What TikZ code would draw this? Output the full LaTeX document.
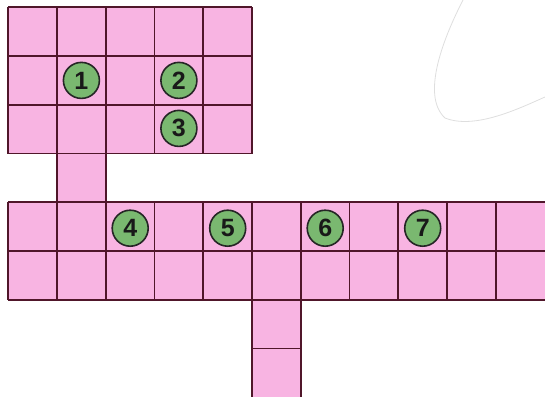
\documentclass[tikz,border=0pt]{standalone}
\usepackage{fontspec}
\setmainfont{Liberation Sans}
\definecolor{cellpink}{RGB}{248,180,226}
\definecolor{gridline}{RGB}{80,22,42}
\definecolor{dotgreen}{RGB}{122,184,112}
\definecolor{faint}{RGB}{222,222,222}
\begin{document}
\begin{tikzpicture}[x=1pt,y=-1pt,
  cellfill/.style={fill=cellpink,draw=none},
  gridl/.style={draw=gridline,line width=1.7pt},
  numdot/.style={circle,fill=dotgreen,draw=black!85,line width=1.6pt,minimum size=36pt,inner sep=0pt,font=\bfseries\fontsize{25}{25}\selectfont,text=black!90}]
\useasboundingbox (0,0) rectangle (545,396);
\clip (0,0) rectangle (545,396);
\def\cs{48.75}
% top block 5x3
\path[cellfill] (8.3,7.3) rectangle (252.05,153.55);
% connector column
\path[cellfill] (57.05,153.55) rectangle (105.8,202.3);
% bottom block 11x2
\path[cellfill] (8.3,202.3) rectangle (548,299.8);
% lower column
\path[cellfill] (252.05,299.8) rectangle (300.8,400);
% grid lines top block
\foreach \i in {0,...,5} \draw[gridl] (8.3+\i*\cs,7.3) -- (8.3+\i*\cs,153.55);
\foreach \j in {0,...,3} \draw[gridl] (8.3,7.3+\j*\cs) -- (252.05,7.3+\j*\cs);
% connector column
\draw[gridl] (57.05,153.55) -- (57.05,202.3);
\draw[gridl] (105.8,153.55) -- (105.8,202.3);
% bottom block
\foreach \i in {0,...,10} \draw[gridl] (8.3+\i*\cs,202.3) -- (8.3+\i*\cs,299.8);
\foreach \j in {0,1,2} \draw[gridl] (8.3,202.3+\j*\cs) -- (548,202.3+\j*\cs);
% lower column
\draw[gridl] (252.05,299.8) -- (252.05,400);
\draw[gridl] (300.8,299.8) -- (300.8,400);
\draw[gridl] (252.05,348.55) -- (300.8,348.55);
% faint curve
\draw[faint,line width=0.8pt] (463,0) .. controls (445,35) and (420,95) .. (445,118) .. controls (475,130) and (520,108) .. (545,97);
% numbered dots
\node[numdot] (n1) at (81.4,80.4) {1};
\node[numdot] (n2) at (178.9,80.4) {2};
\node[numdot] (n3) at (178.9,128.4) {3};
\node[numdot] (n4) at (130.2,228.2) {4};
\node[numdot] (n5) at (227.7,228.2) {5};
\node[numdot] (n6) at (325.2,228.2) {6};
\node[numdot] (n7) at (422.7,228.2) {7};
\end{tikzpicture}
\end{document}
